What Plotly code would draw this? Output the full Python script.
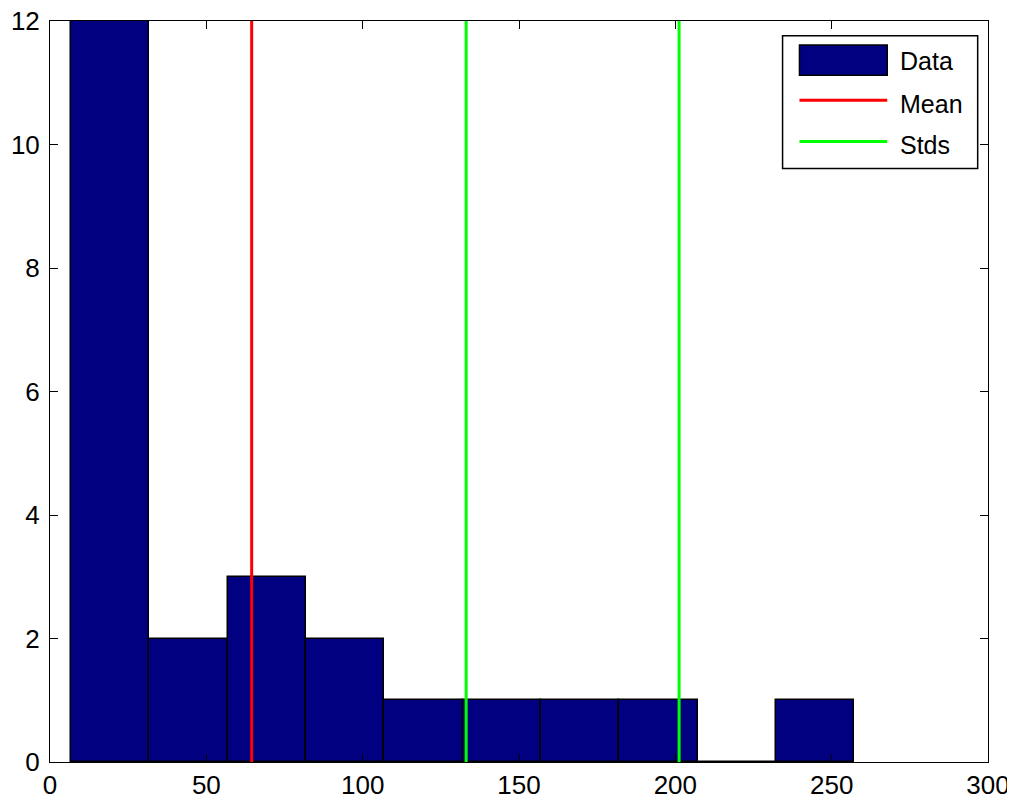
import plotly.graph_objects as go

bin_edges = [6.7, 31.76, 56.8, 81.9, 106.9, 132.0, 157.0, 182.1, 207.2, 232.2, 257.3]
counts = [12, 2, 3, 2, 1, 1, 1, 1, 0, 1]
mean_val = 64.5
std_vals = [133.1, 201.2]
x_ticks = [0, 50, 100, 150, 200, 250, 300]
y_ticks = [0, 2, 4, 6, 8, 10, 12]
legend_labels = ["Data", "Mean", "Stds"]

NAVY = "#000080"
RED = "#FF0000"
GREEN = "#00FF00"
FONT = "Liberation Sans"

centers = [(a + b) / 2 for a, b in zip(bin_edges[:-1], bin_edges[1:])]
widths = [b - a for a, b in zip(bin_edges[:-1], bin_edges[1:])]

fig = go.Figure()
fig.add_trace(go.Bar(x=centers, y=counts, width=widths, name=legend_labels[0], showlegend=False,
                     marker=dict(color=NAVY, line=dict(color="black", width=1.5))))
fig.add_trace(go.Scatter(x=[mean_val, mean_val], y=[0, 12], mode="lines", name=legend_labels[1],
                         showlegend=False, line=dict(color=RED, width=3)))
sx, sy = [], []
for s in std_vals:
    sx += [s, s, None]
    sy += [0, 12, None]
fig.add_trace(go.Scatter(x=sx, y=sy, mode="lines", name=legend_labels[2], showlegend=False,
                         line=dict(color=GREEN, width=3)))

axis_common = dict(showline=True, linecolor="black", linewidth=1, mirror="ticks",
                   ticks="inside", ticklen=8, tickcolor="black", showgrid=False,
                   zeroline=False, automargin=False, ticklabeloverflow="allow",
                   tickfont=dict(family=FONT, size=26, color="black"))
fig.update_xaxes(range=[0, 300], tickvals=x_ticks, ticklabelstandoff=0, **axis_common)
fig.update_yaxes(range=[0, 12], tickvals=y_ticks, ticklabelstandoff=4, **axis_common)

# Legend box drawn in MATLAB style
shapes = [
    dict(type="rect", xref="paper", yref="paper", x0=0.781, x1=0.989, y0=0.801, y1=0.980,
         line=dict(color="black", width=1.5), fillcolor="white", layer="above"),
    dict(type="rect", xref="paper", yref="paper", x0=0.799, x1=0.8926, y0=0.9268, y1=0.9677,
         line=dict(color="black", width=1.5), fillcolor=NAVY, layer="above"),
    dict(type="line", xref="paper", yref="paper", x0=0.799, x1=0.8926, y0=0.8931, y1=0.8931,
         line=dict(color=RED, width=3), layer="above"),
    dict(type="line", xref="paper", yref="paper", x0=0.799, x1=0.8926, y0=0.8373, y1=0.8373,
         line=dict(color=GREEN, width=3), layer="above"),
]
annotations = []
for label, yy in zip(legend_labels, [0.9457, 0.8877, 0.8329]):
    annotations.append(dict(text=label, xref="paper", yref="paper", x=0.9037, y=yy,
                            xanchor="left", yanchor="middle", showarrow=False,
                            font=dict(family=FONT, size=25, color="black")))

fig.update_layout(
    width=1007, height=792,
    margin=dict(l=42, r=27, t=13, b=38),
    plot_bgcolor="white", paper_bgcolor="white",
    bargap=0, showlegend=False,
    shapes=shapes, annotations=annotations,
)
fig.write_html("out.html")
